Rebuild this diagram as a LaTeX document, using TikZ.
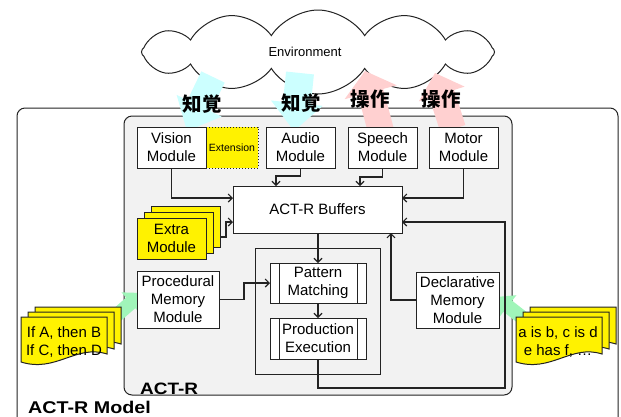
\documentclass[tikz,border=0pt]{standalone}
\usepackage{fontspec}
\setmainfont{Liberation Sans}
\newfontfamily\jpfont{Noto Sans CJK JP}
\usetikzlibrary{shapes.symbols,arrows.meta,calc}
\definecolor{cyanA}{RGB}{204,255,255}
\definecolor{pinkA}{RGB}{255,208,208}
\definecolor{greenA}{RGB}{160,245,185}
\definecolor{grayA}{RGB}{242,242,242}
\definecolor{lineA}{RGB}{35,35,35}
\newcommand\fsm{\fontsize{15}{18}\selectfont}
\newcommand\fatarr[6]{%
  \coordinate (fa-T) at (#2);
  \coordinate (fa-P) at (#3);
  \coordinate (fa-H) at ($(fa-P)!#6!(fa-T)$);
  \fill[#1] ($(fa-T)!#4!90:(fa-P)$) -- ($(fa-H)!#4!90:(fa-P)$) -- ($(fa-H)!#5!90:(fa-P)$) -- (fa-P)
    -- ($(fa-H)!#5!-90:(fa-P)$) -- ($(fa-H)!#4!-90:(fa-P)$) -- ($(fa-T)!#4!-90:(fa-P)$) -- cycle;}
\newcommand\docpage[2]{%
  \filldraw[docst, shift={(#1,#2)}] (0,0) -- (86,0) -- (86,37) .. controls (55,27) and (35,56) .. (0,45) -- cycle;}
\tikzset{
  box/.style={draw=lineA, line width=1pt, fill=white, inner sep=0pt, outer sep=0pt,
    align=center, font=\fsm, anchor=north west},
  ybox/.style={box, fill=yellow},
  procbox/.style={box, path picture={
    \draw[lineA, line width=1pt]
      ([xshift=9pt]path picture bounding box.north west) -- ([xshift=9pt]path picture bounding box.south west)
      ([xshift=-9pt]path picture bounding box.north east) -- ([xshift=-9pt]path picture bounding box.south east);}},
  arr/.style={draw=lineA, line width=1.1pt, -{Straight Barb[length=4pt,width=8pt]}},
  docst/.style={fill=yellow, draw=lineA, line width=1pt},
  jp/.style={font=\jpfont\bfseries\fontsize{19.5}{20}\selectfont, inner sep=0pt},
  bigbox/.style={draw=lineA, line width=1pt, rounded corners=8pt, anchor=north west, inner sep=0pt, outer sep=0pt}
}
\begin{document}
\begin{tikzpicture}[x=1pt,y=-1pt]
\useasboundingbox (0,0) rectangle (621,416);
\clip (0,0) rectangle (621,416);
% outer boxes
\node[bigbox, minimum width=601, minimum height=330] (model) at (17,108) {};
\node[bigbox, fill=grayA, minimum width=388, minimum height=279] (actr) at (124,116) {};
% cloud
\node[cloud, draw=lineA, fill=white, line width=1pt, cloud puffs=12, cloud puff arc=115, aspect=4.2,
  minimum width=353pt, minimum height=84pt, inner sep=0pt] (env) at (318,52) {};
\node[font=\fontsize{13}{15}\selectfont] (envtext) at (305,52) {Environment};
% fat arrows
\fatarr{fill=cyanA}{213,77}{187,131}{13pt}{25pt}{28pt}
\fatarr{fill=cyanA}{300,73}{294,131}{14pt}{26pt}{28pt}
\fatarr{fill=pinkA}{381,131}{365,71}{13pt}{27pt}{22pt}
\fatarr{fill=pinkA}{453,129}{435,73}{13pt}{24pt}{22pt}
\fatarr{fill=greenA}{110,321}{142,293}{7pt}{14pt}{15pt}
\fatarr{fill=greenA}{528,322}{496,297}{7pt}{14pt}{15pt}
% labels
\node[jp] (jp1) at (202,104) {知覚};
\node[jp] (jp2) at (301,103) {知覚};
\node[jp] (jp3) at (370,99) {操作};
\node[jp] (jp4) at (441,99) {操作};
% modules
\node[box, fill=yellow, dotted, minimum width=52, minimum height=41, font=\fontsize{10.5}{12}\selectfont] (ext) at (206,127) {Extension};
\node[box, minimum width=69, minimum height=41] (vision) at (137,127) {Vision\\Module};
\node[box, minimum width=69, minimum height=41] (audio) at (266,127) {Audio\\Module};
\node[box, minimum width=69, minimum height=41] (speech) at (348,127) {Speech\\Module};
\node[box, minimum width=69, minimum height=41] (motor) at (429,127) {Motor\\Module};
\node[box, minimum width=169, minimum height=47] (buf) at (233,186) {ACT-R Buffers};
\node[ybox, minimum width=69, minimum height=41] (extra3) at (151,206) {};
\node[ybox, minimum width=69, minimum height=41] (extra2) at (144,212) {};
\node[ybox, minimum width=69, minimum height=41] (extra1) at (137,218) {Extra\\Module};
\node[box, minimum width=82, minimum height=57] (procm) at (137,271) {Procedural\\Memory\\Module};
\node[box, fill=grayA, minimum width=125, minimum height=126] (core) at (255,248) {};
\node[procbox, minimum width=96, minimum height=40] (pat) at (270,263) {Pattern\\Matching};
\node[procbox, minimum width=96, minimum height=41] (prod) at (270,318) {Production\\Execution};
\node[box, minimum width=83, minimum height=56] (decl) at (416,272) {Declarative\\Memory\\Module};
% documents
\docpage{35}{307}
\docpage{28}{312}
\docpage{21}{317}
\node[font=\fsm, align=center, inner sep=0pt] (ltext) at (64,342) {If A, then B\\If C, then D};
\docpage{530}{307}
\docpage{523}{312}
\docpage{516}{317}
\node[font=\fsm, align=center, inner sep=0pt] (rtext) at (558,342) {a is b, c is d\\e has f, …};
% connectors
\draw[arr] (vision.south) |- ([yshift=11.5pt]buf.west);
\draw[arr] (extra3.east |- 0,237) -- ++(6,0) |- ([yshift=-12.5pt]buf.west);
\draw[arr] (audio.south) -- ++(0,8) -| ([xshift=-41.5pt]buf.north);
\draw[arr] (speech.south) -- ++(0,9) -| ([xshift=42.5pt]buf.north);
\draw[arr] (motor.south) |- ([yshift=11.5pt]buf.east);
\coordinate (ret) at (505,388);
\draw[arr] (prod.south) |- (ret) |- ([yshift=-12.5pt]buf.east);
\draw[arr] (decl.west) -| ([xshift=73.5pt]buf.south);
\draw[arr] (buf.south -| pat.north) -- (pat.north);
\draw[arr] (pat.south) -- (prod.north);
\draw[arr] (procm.east) -- ++(25,0) |- (pat.west);
% titles
\node[font=\bfseries\fontsize{16.5}{18}\selectfont, anchor=base west, inner sep=0pt] (lblactr) at (140,394) {\scalebox{1.15}[1]{ACT-R}};
\node[font=\bfseries\fontsize{17}{18}\selectfont, anchor=base west, inner sep=0pt] (lblmodel) at (28,413) {\scalebox{1.16}[1]{ACT-R Model}};
\end{tikzpicture}
\end{document}
